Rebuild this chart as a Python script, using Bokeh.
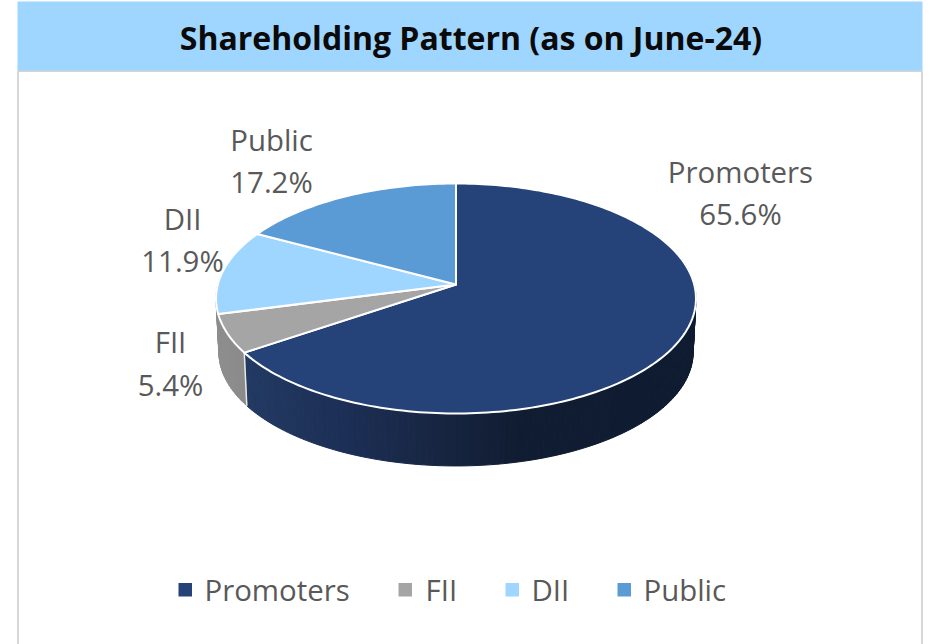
import math
from bokeh.plotting import figure
from bokeh.models import Range1d
from bokeh.core.properties import value
from bokeh.embed import file_html
from bokeh.resources import INLINE

categories = ["Promoters", "FII", "DII", "Public"]
shares = [65.6, 5.4, 11.9, 17.2]
title_text = "Shareholding Pattern (as on June-24)"

top_colors = ["#254379", "#A5A5A5", "#9FD6FF", "#5B9BD5"]
FONT = "Open Sans"
LABEL = "#595959"

W, H = 930, 644
p = figure(width=W, height=H, output_backend="svg", toolbar_location=None,
           x_range=Range1d(1, W + 1), y_range=Range1d(H + 1, 1), min_border=0,
           background_fill_color="white", border_fill_color=None)
p.axis.visible = False
p.grid.visible = False
p.outline_line_color = None

# 3D projection of the pie disc
AX, AY = 456.5, 285.0
K = 0.1217
A, B = 113.3, 238.2
DEPTH, SHRINK = 54.0, 0.988


def rim(frac, lower=False):
    t = 2 * math.pi * frac
    u, v = math.sin(t), math.cos(t)
    w = 1 + K * v
    x, y = B * u / w, -A * v / w
    if lower:
        return AX + x * SHRINK, AY + y * SHRINK + DEPTH
    return AX + x, AY + y


def mix(stops, x):
    if x <= stops[0][0]:
        return stops[0][1]
    for (x0, c0), (x1, c1) in zip(stops, stops[1:]):
        if x <= x1:
            f = (x - x0) / (x1 - x0)
            a = [int(c0[i:i + 2], 16) for i in (1, 3, 5)]
            b = [int(c1[i:i + 2], 16) for i in (1, 3, 5)]
            return "#%02x%02x%02x" % tuple(round(m + (n - m) * f) for m, n in zip(a, b))
    return stops[-1][1]


total = sum(shares)
edges = [0.0]
for s in shares:
    edges.append(edges[-1] + s / total)

navy = [(245, "#223A63"), (350, "#1C2E54"), (450, "#17243F"), (520, "#0F1C31"), (700, "#0E1B30")]
grey = [(215, "#8E8E8E"), (246, "#8A8A8A")]


def side(f0, f1, stops, n):
    xs, ys, cs = [], [], []
    for i in range(n):
        a = f0 + (f1 - f0) * i / n
        b = f0 + (f1 - f0) * (i + 1) / n
        pts = [rim(a), rim(b), rim(b, True), rim(a, True)]
        xs.append([q[0] for q in pts])
        ys.append([q[1] for q in pts])
        cs.append(mix(stops, (pts[0][0] + pts[1][0]) / 2))
    p.patches(xs, ys, fill_color=cs, line_color=cs, line_width=1)


side(0.16, edges[1], navy, 140)
side(edges[1], 0.78, grey, 30)

# white seam on the side between Promoters and FII
s0, s1 = rim(edges[1]), rim(edges[1], True)
p.line([s0[0], s1[0]], [s0[1], s1[1]], line_color="#E8E8E8", line_width=1.5)

# top faces
for i, c in enumerate(top_colors):
    n = max(4, int(shares[i] * 3))
    pts = [rim(edges[i] + (edges[i + 1] - edges[i]) * j / n) for j in range(n + 1)]
    xs = [AX] + [q[0] for q in pts]
    ys = [AY] + [q[1] for q in pts]
    p.patch(xs, ys, fill_color=c, line_color="white", line_width=2, line_join="round")

# title band and frame
p.quad(left=[18], right=[923], top=[2], bottom=[71], fill_color="#9FD6FF", line_color=None)
p.line([18, 923], [71.5, 71.5], line_color="#BCC8D2", line_width=1.5)
p.line([18.5, 18.5], [72, 646], line_color="#C9C9C9", line_width=1.5)
p.line([922.5, 922.5], [72, 646], line_color="#C9C9C9", line_width=1.5)
p.text([471.5], [38], text=[title_text], text_font=value(FONT), text_font_size="32px",
       text_font_style="bold", text_color="#0A0A0A", text_align="center", text_baseline="middle")

# data labels
label_x = [741, 171, 183, 272]
name_y = [172, 342, 219, 140]
pct_y = [214, 385, 261, 182]
p.text(label_x, name_y, text=categories, text_font=value(FONT), text_font_size="29.4px",
       text_color=LABEL, text_align="center", text_baseline="middle")
p.text(label_x, pct_y, text=[f"{s}%" for s in shares], text_font=value(FONT), text_font_size="29.4px",
       text_color=LABEL, text_align="center", text_baseline="middle")

# legend
sq_x = [179, 399, 506, 618]
tx_x = [205, 426, 532, 644]
p.quad(left=sq_x, right=[x + 13.5 for x in sq_x], top=[583.5] * 4, bottom=[597] * 4,
       fill_color=top_colors, line_color=None)
p.text(tx_x, [590] * 4, text=categories, text_font=value(FONT), text_font_size="29.4px",
       text_color=LABEL, text_align="left", text_baseline="middle")

open("out.html", "w").write(file_html(p, INLINE))
